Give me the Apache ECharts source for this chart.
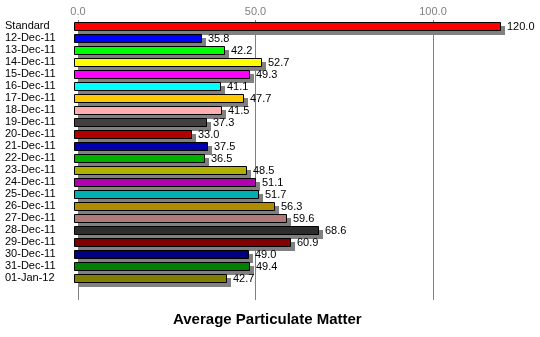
<!DOCTYPE html>
<html>
<head>
<meta charset="utf-8">
<script src="https://cdn.jsdelivr.net/npm/echarts@6/dist/echarts.min.js"></script>
<style>
html,body{margin:0;padding:0;background:#fff;}
#chart{width:540px;height:337px;}
</style>
</head>
<body>
<div id="chart"></div>
<script>
const categories = ["Standard","12-Dec-11","13-Dec-11","14-Dec-11","15-Dec-11","16-Dec-11","17-Dec-11","18-Dec-11","19-Dec-11","20-Dec-11","21-Dec-11","22-Dec-11","23-Dec-11","24-Dec-11","25-Dec-11","26-Dec-11","27-Dec-11","28-Dec-11","29-Dec-11","30-Dec-11","31-Dec-11","01-Jan-12"];
const values = [120.0,35.8,42.2,52.7,49.3,41.1,47.7,41.5,37.3,33.0,37.5,36.5,48.5,51.1,51.7,56.3,59.6,68.6,60.9,49.0,49.4,42.7];
const barColors = ["#FF0000","#0000FF","#00FF00","#FFFF00","#FF00FF","#00FFFF","#FFC800","#FFAFAF","#404040","#B00000","#0000B0","#00B000","#B0B000","#B000B0","#00B0B0","#B08C00","#B07A7A","#2D2D2D","#800000","#000080","#008000","#808000"];
const xTicks = [0, 50, 100];
const title = "Average Particulate Matter";

const FONT = '"Liberation Sans", Arial, sans-serif';
const chart = echarts.init(document.getElementById('chart'), null, {renderer:'canvas'});

const data = values.map((v, i) => [v, i]);

chart.setOption({
  animation: false,
  backgroundColor: '#fff',
  title: {
    text: title,
    left: 168,
    top: 307,
    textStyle: {fontFamily: FONT, fontSize: 15, fontWeight: 'bold', color: '#000'}
  },
  grid: [
    {left: 78, right: 36, top: 20, height: categories.length * 12},
    {left: 78, right: 36, top: 20, bottom: 37}
  ],
  xAxis: [
    {gridIndex: 0, type: 'value', min: 0, max: 120, show: false},
    {gridIndex: 1, type: 'value', min: 0, max: 120, interval: 50, position: 'top',
     axisLine: {show: false}, axisTick: {show: false},
     axisLabel: {show: true, margin: 3, color: '#808080', fontFamily: FONT, fontSize: 11,
       showMaxLabel: false,
       formatter: v => xTicks.indexOf(v) >= 0 ? v.toFixed(1) : ''},
     splitLine: {show: true, showMaxLine: false, lineStyle: {color: '#808080', width: 1}}}
  ],
  yAxis: [
    {gridIndex: 0, type: 'category', data: categories, inverse: true,
     axisLine: {show: false}, axisTick: {show: false}, splitLine: {show: false},
     axisLabel: {interval: 0, align: 'left', margin: 73, color: '#000', fontFamily: FONT, fontSize: 11}},
    {gridIndex: 1, type: 'value', show: false}
  ],
  series: [{
    type: 'custom',
    xAxisIndex: 0, yAxisIndex: 0,
    data: data,
    encode: {x: 0, y: 1},
    renderItem: function (params, api) {
      const v = api.value(0);
      const idx = api.value(1);
      const p0 = api.coord([0, idx]);
      const p1 = api.coord([v, idx]);
      const x0 = Math.round(p0[0]);
      const x1 = Math.round(p1[0]);
      const cy = Math.round(p0[1]);
      return {
        type: 'group',
        children: [
          {type: 'rect', shape: {x: x0, y: cy, width: x1 - x0 + 1, height: 9},
           style: {fill: '#808080'}},
          {type: 'rect', shape: {x: x0 - 3.5, y: cy - 3.5, width: x1 - x0, height: 8},
           style: {fill: barColors[idx], stroke: '#000', lineWidth: 1}},
          {type: 'text', style: {text: v.toFixed(1), x: x1 + 3, y: cy + 1,
            verticalAlign: 'middle', align: 'left', font: '11px ' + FONT, fill: '#000'}}
        ]
      };
    }
  }]
});
</script>
</body>
</html>
